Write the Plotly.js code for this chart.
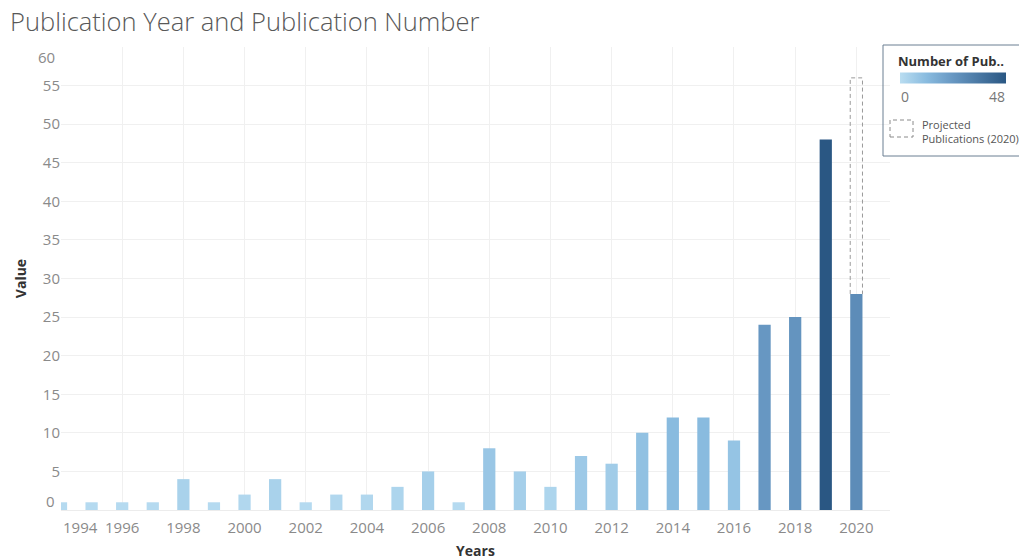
<!DOCTYPE html>
<html>
<head>
<meta charset="utf-8">
<script src="https://cdn.plot.ly/plotly-3.0.1.min.js"></script>
<style>html,body{margin:0;padding:0;background:#fff;}#chart{width:1019px;height:560px;}</style>
</head>
<body>
<div id="chart"></div>
<script>
// ---- data ----
const years = [1994,1995,1996,1997,1998,1999,2000,2001,2002,2003,2004,2005,2006,2007,2008,2009,2010,2011,2012,2013,2014,2015,2016,2017,2018,2019,2020];
const publications = [1,1,1,1,4,1,2,4,1,2,2,3,5,1,8,5,3,7,6,10,12,12,9,24,25,48,28];
const projectedYear = [2020];
const projectedValue = [56];
const xTickVals = [1994,1996,1998,2000,2002,2004,2006,2008,2010,2012,2014,2016,2018,2020];
const yTickVals = [0,5,10,15,20,25,30,35,40,45,50,55,60];
const colorMin = 0, colorMax = 48;

// ---- layout helpers (pixel -> paper) ----
const L = 61, R = 890, T = 47, B = 510;
const px = x => (x - L) / (R - L);
const py = y => (B - y) / (B - T);
const barWidth = 0.4;
const blues = [[0,'#b9ddf1'],[0.25,'#89bbdf'],[0.5,'#6797c2'],[1,'#2a5783']];
const tickFont = {family: 'Open Sans, sans-serif', size: 15, color: '#8a8a8a'};

const bar = {
  type: 'bar',
  x: years,
  y: publications,
  width: barWidth,
  marker: {
    color: publications,
    colorscale: blues,
    cmin: colorMin,
    cmax: colorMax,
    showscale: true,
    colorbar: {
      orientation: 'h',
      x: px(953), xanchor: 'center',
      y: py(77.5), yanchor: 'middle',
      lenmode: 'pixels', len: 106,
      thickness: 11,
      outlinewidth: 0,
      showticklabels: false,
      ticks: '',
      xpad: 0, ypad: 0
    },
    line: {width: 0}
  },
  hoverinfo: 'x+y'
};

// projected outline: drawn from the actual bar top up to the projected value
const projTraces = projectedYear.map((yr, i) => {
  const actual = publications[years.indexOf(yr)];
  return {
    type: 'scatter', mode: 'lines',
    x: [yr - barWidth / 2, yr - barWidth / 2, yr + barWidth / 2, yr + barWidth / 2],
    y: [actual, projectedValue[i], projectedValue[i], actual],
    line: {color: '#9a9a9a', width: 1, dash: '4px,3px'},
    hoverinfo: 'skip'
  };
});

const shapes = [];
// legend frame
shapes.push({
  type: 'rect', xref: 'paper', yref: 'paper',
  x0: px(883), x1: px(1030), y0: py(156), y1: py(45),
  line: {color: '#6b7f92', width: 1}, fillcolor: 'rgba(255,255,255,0)'
});
// legend dashed icon
shapes.push({
  type: 'rect', xref: 'paper', yref: 'paper',
  x0: px(890), x1: px(913), y0: py(137), y1: py(120),
  line: {color: '#8a8a8a', width: 1, dash: '4px,3px'}, fillcolor: 'rgba(0,0,0,0)'
});

const xTickText = xTickVals.map((v, i) => i === 0 ? '' : String(v));
const yTickText = yTickVals.map((v, i) => (i === 0 || i === yTickVals.length - 1) ? '' : String(v));

const annotations = [
  // nudged edge tick labels (as in the reference)
  {xref:'x', yref:'paper', x: xTickVals[0], y: 0, xshift: 19, yshift: -17, xanchor:'center', yanchor:'middle',
   showarrow:false, text: String(xTickVals[0]), font: tickFont},
  {xref:'paper', yref:'y', x: px(57), y: yTickVals[0], yshift: 9, xanchor:'right', yanchor:'middle',
   showarrow:false, text: String(yTickVals[0]), font: tickFont},
  {xref:'paper', yref:'y', x: px(57), y: yTickVals[yTickVals.length - 1], yshift: -10, xanchor:'right', yanchor:'middle',
   showarrow:false, text: String(yTickVals[yTickVals.length - 1]), font: tickFont},
  // legend texts
  {xref:'paper', yref:'paper', x: px(896), y: py(61), xanchor:'left', yanchor:'middle', showarrow:false,
   text:'<b>Number of Pub..</b>', font:{family:'Open Sans, sans-serif', size:13, color:'#333'}},
  {xref:'paper', yref:'paper', x: px(899), y: py(97), xanchor:'left', yanchor:'middle', showarrow:false,
   text: String(colorMin), font:{family:'Open Sans, sans-serif', size:14, color:'#777'}},
  {xref:'paper', yref:'paper', x: px(1007), y: py(97), xanchor:'right', yanchor:'middle', showarrow:false,
   text: String(colorMax), font:{family:'Open Sans, sans-serif', size:14, color:'#777'}},
  {xref:'paper', yref:'paper', x: px(920), y: py(131), xanchor:'left', yanchor:'middle', showarrow:false, align:'left',
   text:'Projected<br>Publications (2020)', font:{family:'Open Sans, sans-serif', size:11, color:'#555'}}
];

const layout = {
  width: 1019, height: 560,
  margin: {l: L, r: 1019 - R, t: T, b: 560 - B},
  paper_bgcolor: '#fff', plot_bgcolor: '#fff',
  showlegend: false,
  title: {
    text: 'Publication Year and Publication Number',
    xref: 'container', yref: 'container', x: 10/1019, xanchor: 'left', y: 1 - 22/560, yanchor: 'middle',
    font: {family: 'Open Sans, sans-serif', size: 25.5, color: '#585858', weight: 300}
  },
  xaxis: {
    range: [1994, 2021.1],
    tickmode: 'array', tickvals: xTickVals, ticktext: xTickText,
    showgrid: true, gridcolor: '#f0f0f0', zeroline: false,
    showline: false, ticks: '', ticklabelstandoff: 7,
    tickfont: tickFont,
    title: {text: '<b>Years</b>', standoff: 14, font: {family: 'Open Sans, sans-serif', size: 14, color: '#333'}},
    automargin: false
  },
  yaxis: {
    range: [0, 60],
    tickmode: 'array', tickvals: yTickVals, ticktext: yTickText,
    showgrid: true, gridcolor: '#f0f0f0', zeroline: true, zerolinecolor: '#ececec',
    showline: false, ticks: '',
    tickfont: tickFont,
    title: {text: '<b>Value</b>', standoff: 12, font: {family: 'Open Sans, sans-serif', size: 14, color: '#333'}},
    automargin: false
  },
  shapes: shapes,
  annotations: annotations
};

Plotly.newPlot('chart', [bar].concat(projTraces), layout, {displayModeBar: false, staticPlot: true});
</script>
</body>
</html>
